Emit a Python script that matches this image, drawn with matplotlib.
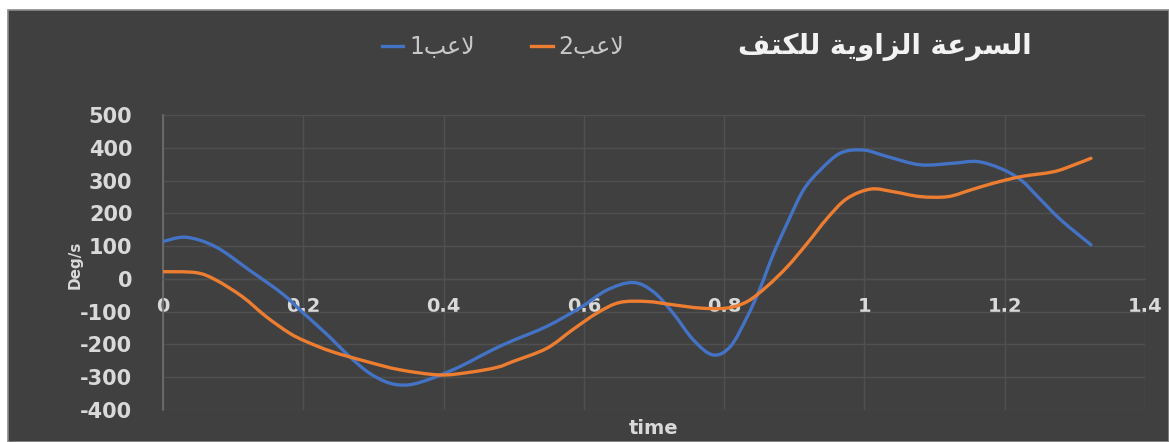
import matplotlib
matplotlib.use("Agg")
import matplotlib.pyplot as plt
import numpy as np
from matplotlib.lines import Line2D
from matplotlib.patches import Rectangle, PathPatch
from matplotlib.path import Path

plt.rcParams["axes.unicode_minus"] = False

# Shoulder angular velocity (deg/s) over time (s) for two players
time_p1 = [0, 0.033, 0.075, 0.123, 0.17, 0.2, 0.233, 0.266, 0.294, 0.323,
           0.351, 0.384, 0.423, 0.451, 0.476, 0.499, 0.547, 0.594, 0.633, 0.67,
           0.699, 0.727, 0.756, 0.784, 0.809, 0.833, 0.851, 0.87, 0.89, 0.913,
           0.937, 0.966, 0.999, 1.033, 1.08, 1.127, 1.161, 1.194, 1.223, 1.247,
           1.28, 1.323]
vel_p1 = [114, 127, 98, 27, -45, -104, -168, -237, -287, -318,
          -323, -303, -268, -237, -210, -188, -145, -89, -34, -11,
          -39, -104, -186, -232, -206, -115, -30, 75, 170, 271,
          332, 384, 393, 373, 348, 353, 358, 337, 302, 251,
          180, 104]

time_p2 = [0, 0.047, 0.075, 0.113, 0.147, 0.18, 0.204, 0.241, 0.29, 0.337,
           0.394, 0.437, 0.476, 0.499, 0.547, 0.584, 0.619, 0.651, 0.69, 0.727,
           0.766, 0.804, 0.833, 0.861, 0.89, 0.919, 0.947, 0.975, 1.009, 1.041,
           1.08, 1.119, 1.151, 1.184, 1.223, 1.27, 1.299, 1.323]
vel_p2 = [22, 19, -3, -54, -115, -165, -191, -222, -252, -277,
          -293, -285, -270, -252, -212, -155, -104, -72, -69, -79,
          -89, -89, -69, -23, 37, 110, 185, 245, 274, 266,
          251, 251, 271, 292, 312, 327, 348, 368]

x_ticks = [0, 0.2, 0.4, 0.6, 0.8, 1, 1.2, 1.4]
x_tick_labels = ["0", "0.2", "0.4", "0.6", "0.8", "1", "1.2", "1.4"]
y_ticks = [-400, -300, -200, -100, 0, 100, 200, 300, 400, 500]

# Arabic strings in shaped presentation forms, laid out in visual order
title_shaped = ("\uFE8D\uFEDF\uFEB4\uFEAE\uFECB\uFE94 "
                "\uFE8D\uFEDF\uFEB0\uFE8D\uFEED\uFEF3\uFE94 "
                "\uFEDF\uFEE0\uFEDC\uFE98\uFED2")[::-1]
label_p1 = "1" + "\uFE90\uFECB\uFEFB"
label_p2 = "2" + "\uFE90\uFECB\uFEFB"

BG = "#404040"
GRID = "#505050"
TXT = "#d9d9d9"
BLUE = "#4472C4"
ORANGE = "#ED7D31"


def smoothed_path(xs, ys):
    """Bezier path through every sample, like a spreadsheet 'smoothed line'."""
    pts = np.column_stack([xs, ys]).astype(float)
    n = len(pts)
    verts = [pts[0]]
    codes = [Path.MOVETO]
    for i in range(n - 1):
        prev_pt = pts[i - 1] if i > 0 else pts[i]
        next_pt = pts[i + 2] if i + 2 < n else pts[i + 1]
        c1 = pts[i] + (pts[i + 1] - prev_pt) / 6.0
        c2 = pts[i + 1] - (next_pt - pts[i]) / 6.0
        verts += [c1, c2, pts[i + 1]]
        codes += [Path.CURVE4] * 3
    return Path(verts, codes)


W, H = 1169, 442
fig = plt.figure(figsize=(W / 100, H / 100), dpi=100, facecolor="white")
fig.patches.append(Rectangle((8 / W, 0), 1 - 8 / W, 1 - 10 / H,
                             transform=fig.transFigure, facecolor=BG,
                             edgecolor="#8a8a8a", linewidth=1.2, zorder=-5))

ax = fig.add_axes([163 / W, 1 - 410 / H, (1145 - 163) / W, (410 - 115) / H])
ax.set_zorder(2)
ax.set_facecolor(BG)
ax.set_xlim(0, 1.4)
ax.set_ylim(-400, 500)

ax.set_yticks(y_ticks)
ax.set_xticks(x_ticks)
ax.set_xticklabels(x_tick_labels)
ax.grid(True, color=GRID, linewidth=1.0)
ax.set_axisbelow(True)

for side in ("top", "right"):
    ax.spines[side].set_visible(False)
ax.spines["left"].set_color("#707070")
ax.spines["left"].set_linewidth(1.2)
ax.spines["bottom"].set_position(("data", 0))
ax.spines["bottom"].set_color(GRID)
ax.spines["bottom"].set_linewidth(1.0)

ax.tick_params(axis="y", length=0, pad=22, labelsize=15, labelcolor=TXT)
ax.tick_params(axis="x", length=0, pad=13, labelsize=14, labelcolor=TXT)
for lab in ax.get_yticklabels() + ax.get_xticklabels():
    lab.set_fontweight("bold")

for xs, ys, col in ((time_p1, vel_p1, BLUE), (time_p2, vel_p2, ORANGE)):
    ax.add_patch(PathPatch(smoothed_path(xs, ys), facecolor="none",
                           edgecolor=col, linewidth=2.4, joinstyle="round",
                           capstyle="round", zorder=3))

fig.text(75 / W, 1 - 265 / H, "Deg/s", rotation=90, ha="center", va="center",
         color=TXT, fontsize=11, fontweight="bold")
fig.text(654 / W, 1 - 428 / H, "time", ha="center", va="center",
         color=TXT, fontsize=14, fontweight="bold")

fig.text(885 / W, 1 - 47 / H, title_shaped, ha="center", va="center",
         color="#f2f2f2", fontsize=20, fontweight="bold")

handles = [Line2D([], [], color=BLUE, linewidth=2.4),
           Line2D([], [], color=ORANGE, linewidth=2.4)]
leg = fig.legend(handles, [label_p1, label_p2], loc="center",
                 bbox_to_anchor=(503 / W, 1 - 47 / H), ncol=2, frameon=False,
                 fontsize=17, handlelength=0.9, handletextpad=0.25,
                 columnspacing=2.4, labelcolor="#c8c8c8")

fig.savefig("out.png", dpi=100, facecolor=fig.get_facecolor())
